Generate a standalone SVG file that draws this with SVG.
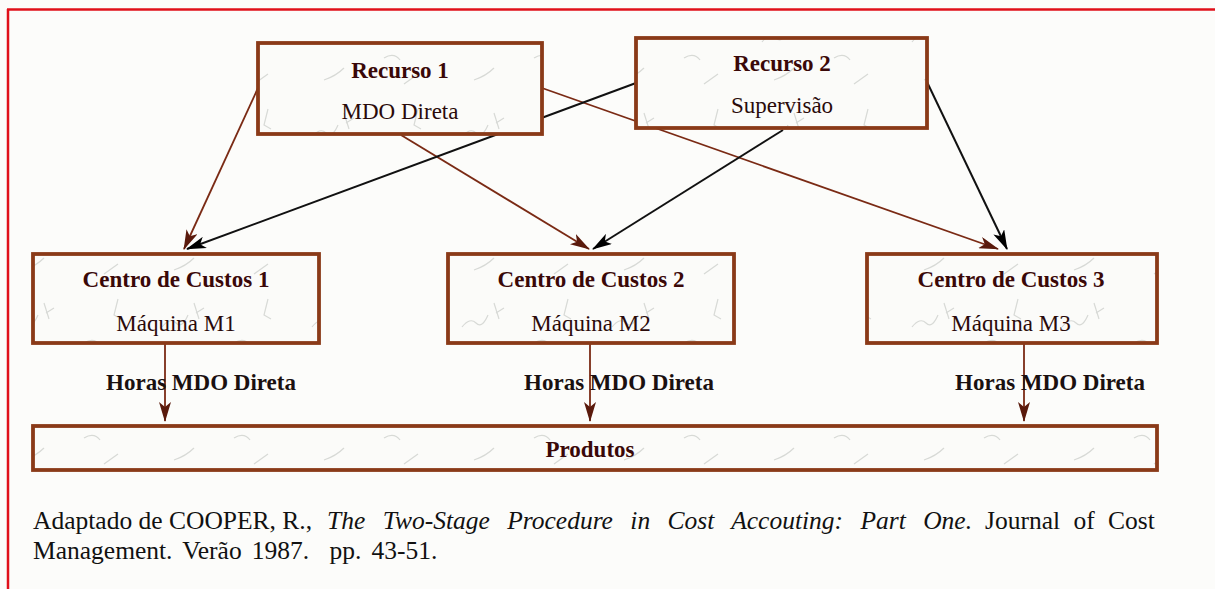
<svg xmlns="http://www.w3.org/2000/svg" width="1215" height="589" viewBox="0 0 1215 589">
<style>
  .box { fill: url(#marble); stroke: #8a3a18; stroke-width: 3.8; }
  .title { font-family: "Liberation Serif", "Times New Roman", serif; font-weight: bold; font-size: 23px; fill: #3a0808; text-anchor: middle; }
  .sub { font-family: "Liberation Serif", "Times New Roman", serif; font-size: 23px; fill: #2a0a0a; text-anchor: middle; }
  .lbl { font-family: "Liberation Serif", "Times New Roman", serif; font-weight: bold; font-size: 23px; fill: #1a1010; text-anchor: middle; }
  .cap { font-family: "Liberation Serif", "Times New Roman", serif; font-size: 25.5px; fill: #111; white-space: pre; }
  .brown { stroke: #7a2a14; stroke-width: 1.8; fill: none; marker-end: url(#ahb); }
  .black { stroke: #111; stroke-width: 2; fill: none; marker-end: url(#ahk); }
</style>
<defs>
  <pattern id="marble" patternUnits="userSpaceOnUse" width="150" height="95">
    <rect width="150" height="95" fill="#fbfbf9"/>
    <g stroke="#c4c7c3" stroke-width="1.2" fill="none" opacity="0.65">
      <path d="M12 42 q8 -10 14 -4 t12 -8"/>
      <path d="M44 18 l5 16 M46 28 l8 -5"/>
      <path d="M84 58 q10 -6 16 2"/>
      <path d="M118 14 l-4 16 l7 4"/>
      <path d="M24 80 q12 -4 20 -12"/>
      <path d="M104 84 l14 -10"/>
    </g>
  </pattern>
  <marker id="ahb" viewBox="0 0 20 12" refX="19" refY="6" markerWidth="20" markerHeight="12" markerUnits="userSpaceOnUse" orient="auto">
    <path d="M0 0 L20 6 L0 12 L5 6 Z" fill="#5a1a0c"/>
  </marker>
  <marker id="ahk" viewBox="0 0 20 12" refX="19" refY="6" markerWidth="20" markerHeight="12" markerUnits="userSpaceOnUse" orient="auto">
    <path d="M0 0 L20 6 L0 12 L5 6 Z" fill="#000"/>
  </marker>
</defs>
<rect width="1215" height="589" fill="#fcfcfa"/>
<g id="frame" stroke="#e0101a" stroke-width="2.5" fill="none">
  <line x1="7" y1="9.5" x2="1215" y2="9.5"/>
  <line x1="8" y1="9" x2="8" y2="589"/>
</g>

<g id="connectors">
  <line class="brown" x1="258" y1="88" x2="184" y2="249"/>
  <line class="brown" x1="401" y1="135" x2="589" y2="249"/>
  <line class="brown" x1="542" y1="88" x2="998" y2="249"/>
  <line class="black" x1="636" y1="83" x2="187" y2="249"/>
  <line class="black" x1="783" y1="130" x2="593" y2="249"/>
  <line class="black" x1="927" y1="82" x2="1007" y2="249"/>
  <line class="brown" x1="165" y1="343" x2="165" y2="421"/>
  <line class="brown" x1="590" y1="343" x2="590" y2="421"/>
  <line class="brown" x1="1024" y1="343" x2="1024" y2="421"/>
</g>

<g id="recurso1">
  <rect class="box" x="258" y="43" width="284" height="91"/>
  <text class="title" x="400" y="78">Recurso 1</text>
  <text class="sub" x="400" y="119">MDO Direta</text>
</g>
<g id="recurso2">
  <rect class="box" x="636" y="38" width="291" height="90"/>
  <text class="title" x="782" y="71">Recurso 2</text>
  <text class="sub" x="782" y="113">Supervisão</text>
</g>
<g id="cc1">
  <rect class="box" x="33" y="254" width="286" height="89"/>
  <text class="title" x="176" y="287">Centro de Custos 1</text>
  <text class="sub" x="176" y="331">Máquina M1</text>
</g>
<g id="cc2">
  <rect class="box" x="448" y="254" width="286" height="89"/>
  <text class="title" x="591" y="287">Centro de Custos 2</text>
  <text class="sub" x="591" y="331">Máquina M2</text>
</g>
<g id="cc3">
  <rect class="box" x="867" y="254" width="290" height="89"/>
  <text class="title" x="1011" y="287">Centro de Custos 3</text>
  <text class="sub" x="1011" y="331">Máquina M3</text>
</g>
<g id="labels">
  <text class="lbl" x="201" y="390">Horas MDO Direta</text>
  <text class="lbl" x="619" y="390">Horas MDO Direta</text>
  <text class="lbl" x="1050" y="390">Horas MDO Direta</text>
</g>
<g id="produtos">
  <rect class="box" x="33" y="426" width="1124" height="44"/>
  <text class="title" x="590" y="457">Produtos</text>
</g>

<g id="caption">
  <text class="cap" x="33" y="529">Adaptado de COOPER, R.,</text>
  <text class="cap" x="327" y="529" font-style="italic" word-spacing="11">The Two-Stage Procedure in Cost Accouting: Part One.</text>
  <text class="cap" x="985" y="529" word-spacing="7">Journal of Cost</text>
  <text class="cap" x="33" y="559" word-spacing="3.8">Management. Verão 1987.  pp. 43-51.</text>
</g>
</svg>
